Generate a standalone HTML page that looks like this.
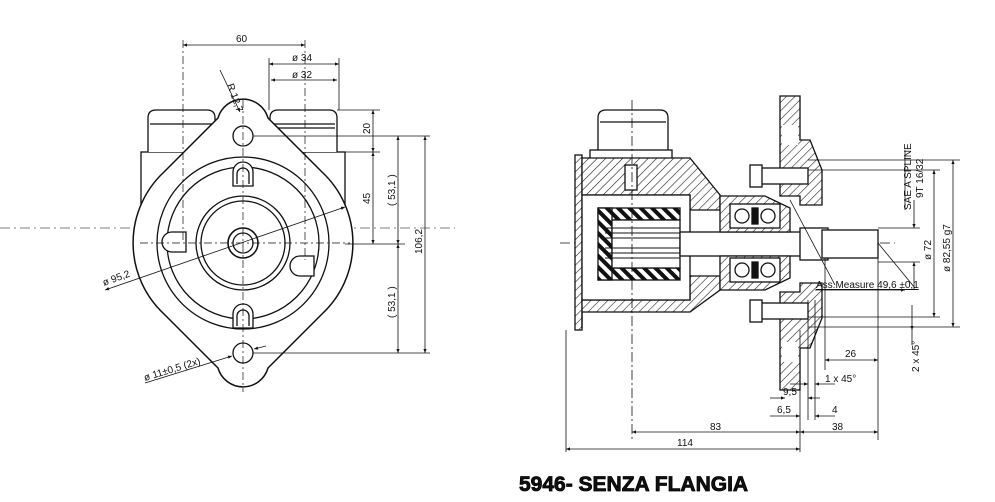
<!DOCTYPE html>
<html><head><meta charset="utf-8"><style>
html,body{margin:0;padding:0;background:#fff;}
svg{display:block;}
text{font-family:"Liberation Sans",sans-serif;fill:#111;}
</style></head><body>
<svg width="995" height="502" viewBox="0 0 995 502" xmlns="http://www.w3.org/2000/svg">
<defs>
<pattern id="h" width="6" height="6" patternUnits="userSpaceOnUse" patternTransform="rotate(45)"><rect width="6" height="6" fill="#fff"/><line x1="0" y1="0" x2="0" y2="6" stroke="#222" stroke-width="1.2"/></pattern>
<pattern id="hb" width="8" height="8" patternUnits="userSpaceOnUse" patternTransform="rotate(-45)"><rect width="8" height="8" fill="#fff"/><rect x="0" y="0" width="4" height="8" fill="#111"/></pattern>
<marker id="a" viewBox="0 0 10 10" refX="10" refY="5" markerWidth="7" markerHeight="5" orient="auto-start-reverse"><path d="M0,1 L10,5 L0,9z" fill="#111"/></marker>
</defs>
<g stroke="#111" fill="none" stroke-width="1.3">
<!-- FRONT VIEW -->
<line x1="0" y1="228" x2="455" y2="228" stroke-dasharray="10,4,2,4" stroke-width="0.7" stroke="#555"/>
<rect x="141" y="152" width="204" height="92" fill="#fff"/>
<path d="M148,152 V118 Q148,110 156,110 H207 Q215,110 215,118 V152" fill="#fff"/>
<line x1="150" y1="124" x2="213" y2="124"/>
<path d="M270,152 V118 Q270,110 278,110 H329 Q337,110 337,118 V152" fill="#fff"/>
<line x1="272" y1="124" x2="335" y2="124"/><line x1="272" y1="128" x2="335" y2="128"/>
<path d="M218,118 A26,26 0 0 1 268,118 L322,172 A97,97 0 0 1 322,314 L268,368 A26,26 0 0 1 218,368 L164,314 A97,97 0 0 1 164,172 Z" fill="#fff" stroke-width="1.5"/>
<circle cx="243" cy="243" r="86"/>
<circle cx="243" cy="243" r="76"/>
<circle cx="243" cy="243" r="47"/>
<circle cx="243" cy="243" r="42"/>
<circle cx="243" cy="243" r="15" stroke-width="1.6"/>
<circle cx="243" cy="243" r="10"/>
<circle cx="243" cy="136" r="10"/>
<circle cx="243" cy="353" r="10"/>
<path d="M233,172 A10,10 0 0 1 253,172 V186 H233 Z" fill="#fff"/><path d="M237,184 V174 A6,6 0 0 1 249,174 V184"/>
<path d="M233,314 A10,10 0 0 1 253,314 V328 H233 Z" fill="#fff"/><path d="M237,326 V316 A6,6 0 0 1 249,316 V326"/>
<path d="M172,252 A10,10 0 0 1 172,232 H186 V252 Z" fill="#fff"/>
<path d="M314,256 A10,10 0 0 1 314,276 H300 V256 Z" fill="#fff" transform="rotate(180 307 266)"/>
<g stroke-dasharray="8,3,2,3" stroke-width="0.7">
<line x1="243" y1="100" x2="243" y2="392"/><line x1="305" y1="40" x2="305" y2="260"/>
<line x1="183" y1="40" x2="183" y2="243"/><line x1="140" y1="243" x2="350" y2="243"/>
</g>
<g stroke-width="0.8">
<line x1="183" y1="45" x2="305" y2="45" marker-start="url(#a)" marker-end="url(#a)"/>
<line x1="269" y1="64" x2="339" y2="64" marker-start="url(#a)" marker-end="url(#a)"/>
<line x1="271" y1="80" x2="337" y2="80" marker-start="url(#a)" marker-end="url(#a)"/>
<line x1="269" y1="58" x2="269" y2="110"/><line x1="339" y1="58" x2="339" y2="110"/>
<line x1="337" y1="110" x2="380" y2="110"/><line x1="345" y1="152" x2="380" y2="152"/><line x1="345" y1="244" x2="405" y2="244"/>
<line x1="253" y1="136" x2="430" y2="136"/><line x1="253" y1="353" x2="430" y2="353"/>
<line x1="373" y1="110" x2="373" y2="152" marker-start="url(#a)" marker-end="url(#a)"/>
<line x1="373" y1="152" x2="373" y2="244" marker-start="url(#a)" marker-end="url(#a)"/>
<line x1="398" y1="136" x2="398" y2="244" marker-start="url(#a)" marker-end="url(#a)"/>
<line x1="398" y1="244" x2="398" y2="353" marker-start="url(#a)" marker-end="url(#a)"/>
<line x1="425" y1="136" x2="425" y2="353" marker-start="url(#a)" marker-end="url(#a)"/>
<line x1="220" y1="70" x2="240" y2="112" marker-end="url(#a)"/>
<line x1="105" y1="290" x2="345" y2="207" marker-start="url(#a)" marker-end="url(#a)"/>
<line x1="145" y1="383" x2="232" y2="356" marker-end="url(#a)"/><line x1="254" y1="349" x2="266" y2="346" marker-start="url(#a)"/>
</g>
</g>
<g font-size="10">
<text x="236" y="42">60</text><text x="292" y="61">ø 34</text><text x="292" y="78">ø 32</text>
<text transform="translate(227,85) rotate(70)">R 12,7</text>
<text transform="translate(370,134) rotate(-90)">20</text>
<text transform="translate(370,204) rotate(-90)">45</text>
<text transform="translate(395,206) rotate(-90)">( 53,1 )</text>
<text transform="translate(395,318) rotate(-90)">( 53,1 )</text>
<text transform="translate(422,254) rotate(-90)">106,2</text>
<text transform="translate(104,286) rotate(-20)">ø 95,2</text>
<text transform="translate(145,381) rotate(-17)">ø 11±0,5  (2x)</text>
</g>

<g stroke="#111" stroke-width="1.3">
<line x1="560" y1="243" x2="895" y2="243" stroke-dasharray="10,4,2,4" stroke-width="0.8" fill="none"/>
<path d="M598,158 V118 Q598,110 606,110 H660 Q668,110 668,118 V158" fill="#fff"/>
<line x1="600" y1="122" x2="666" y2="122" fill="none"/>
<rect x="590" y="150" width="82" height="10" fill="#fff"/>
<rect x="575" y="155" width="7" height="175" fill="url(#h)"/>
<path d="M582,158 H690 L720,195 V210 H690 V195 H582Z" fill="url(#h)"/>
<path d="M582,328 V312 H690 L720,290 V276 H690 V300 H582Z" fill="url(#h)"/>
<rect x="582" y="195" width="108" height="105" fill="#fff"/>
<rect x="598" y="208" width="82" height="12" fill="url(#hb)"/>
<rect x="598" y="268" width="82" height="12" fill="url(#hb)"/>
<rect x="598" y="208" width="14" height="72" fill="url(#hb)"/>
<rect x="612" y="220" width="68" height="48" fill="#fff"/>
<g stroke-width="0.9"><line x1="605" y1="228" x2="680" y2="228"/><line x1="605" y1="233" x2="680" y2="233"/><line x1="605" y1="238" x2="680" y2="238"/><line x1="605" y1="248" x2="680" y2="248"/><line x1="605" y1="253" x2="680" y2="253"/><line x1="605" y1="258" x2="680" y2="258"/></g>
<rect x="625" y="165" width="12" height="25" fill="#fff"/>
<rect x="680" y="232" width="170" height="24" fill="#fff"/>
<path d="M720,196 H765 L790,208 V232 H720Z" fill="url(#h)"/>
<path d="M720,290 H765 L790,278 V256 H720Z" fill="url(#h)"/>
<rect x="730" y="204" width="50" height="24" fill="#fff"/>
<rect x="730" y="258" width="50" height="24" fill="#fff"/>
<circle cx="742" cy="216" r="7" fill="#fff"/><circle cx="768" cy="216" r="7" fill="#fff"/>
<circle cx="742" cy="270" r="7" fill="#fff"/><circle cx="768" cy="270" r="7" fill="#fff"/>
<rect x="752" y="208" width="6" height="16" fill="#111"/><rect x="752" y="262" width="6" height="16" fill="#111"/>
<path d="M780,96 H800 V140 H810 L822,170 V205 H800 V196 H780Z" fill="url(#h)"/>
<path d="M780,390 H800 V348 H810 L822,318 V283 H800 V292 H780Z" fill="url(#h)"/>
<rect x="782" y="125" width="16" height="20" fill="#fff" stroke="none"/>
<rect x="782" y="342" width="16" height="20" fill="#fff" stroke="none"/>
<rect x="758" y="168" width="50" height="16" fill="#fff"/><rect x="750" y="165" width="12" height="22" fill="#fff"/>
<rect x="758" y="303" width="50" height="16" fill="#fff"/><rect x="750" y="300" width="12" height="22" fill="#fff"/>
<rect x="800" y="228" width="28" height="32" fill="#fff"/>
<rect x="822" y="230" width="56" height="28" fill="#fff"/>
</g>
<g stroke="#111" stroke-width="0.8" fill="none">
<line x1="632" y1="100" x2="632" y2="440" stroke-dasharray="10,3,2,3"/>
<line x1="808" y1="160" x2="960" y2="160"/><line x1="808" y1="170" x2="940" y2="170"/>
<line x1="808" y1="317" x2="940" y2="317"/><line x1="808" y1="327" x2="960" y2="327"/>
<line x1="878" y1="228" x2="920" y2="228"/><line x1="878" y1="262" x2="920" y2="262"/>
<line x1="953" y1="160" x2="953" y2="327" marker-start="url(#a)" marker-end="url(#a)"/>
<line x1="934" y1="170" x2="934" y2="317" marker-start="url(#a)" marker-end="url(#a)"/>
<line x1="914" y1="200" x2="914" y2="228" marker-end="url(#a)"/><line x1="914" y1="290" x2="914" y2="262" marker-end="url(#a)"/>
<line x1="905" y1="150" x2="905" y2="210"/>
<line x1="878" y1="243" x2="915" y2="288"/><line x1="815" y1="290" x2="905" y2="290" marker-end="url(#a)"/>
<line x1="790" y1="200" x2="835" y2="285"/>
<line x1="566" y1="330" x2="566" y2="452"/><line x1="800" y1="330" x2="800" y2="452"/><line x1="878" y1="258" x2="878" y2="440"/>
<line x1="825" y1="258" x2="825" y2="370"/><line x1="815" y1="300" x2="815" y2="420"/><line x1="808" y1="300" x2="808" y2="420"/>
<line x1="912" y1="305" x2="912" y2="330" marker-end="url(#a)"/><line x1="912" y1="345" x2="912" y2="327"/>
<line x1="566" y1="449" x2="800" y2="449" marker-start="url(#a)" marker-end="url(#a)"/>
<line x1="632" y1="432" x2="800" y2="432" marker-start="url(#a)" marker-end="url(#a)"/>
<line x1="800" y1="432" x2="878" y2="432" marker-start="url(#a)" marker-end="url(#a)"/>
<line x1="825" y1="360" x2="878" y2="360" marker-start="url(#a)" marker-end="url(#a)"/>
<line x1="790" y1="384" x2="808" y2="384" marker-end="url(#a)"/><line x1="835" y1="384" x2="815" y2="384" marker-end="url(#a)"/>
<line x1="770" y1="398" x2="785" y2="398" marker-end="url(#a)"/><line x1="820" y1="398" x2="808" y2="398" marker-end="url(#a)"/>
<line x1="770" y1="416" x2="800" y2="416" marker-end="url(#a)"/><line x1="835" y1="416" x2="815" y2="416" marker-end="url(#a)"/>
</g>
<g font-size="10">
<text x="710" y="430">83</text><text x="677" y="446">114</text><text x="832" y="430">38</text>
<text x="845" y="357">26</text><text x="825" y="382">1 x 45°</text>
<text x="783" y="395">9,5</text><text x="777" y="413">6,5</text><text x="832" y="413">4</text>
<text x="816" y="288" text-decoration="underline">Ass.Measure  49,6 ±0,1</text>
<text transform="translate(911,210) rotate(-90)">SAE A SPLINE</text>
<text transform="translate(923,198) rotate(-90)">9T 16/32</text>
<text transform="translate(931,260) rotate(-90)">ø 72</text>
<text transform="translate(950,272) rotate(-90)">ø 82,55 g7</text>
<text transform="translate(919,372) rotate(-90)">2 x 45°</text>
</g>
<text x="519" y="491" font-size="21" font-weight="bold" stroke="#000" stroke-width="0.8" style="font-family:'Liberation Sans',sans-serif">5946- SENZA FLANGIA</text>
</svg>
</body></html>
